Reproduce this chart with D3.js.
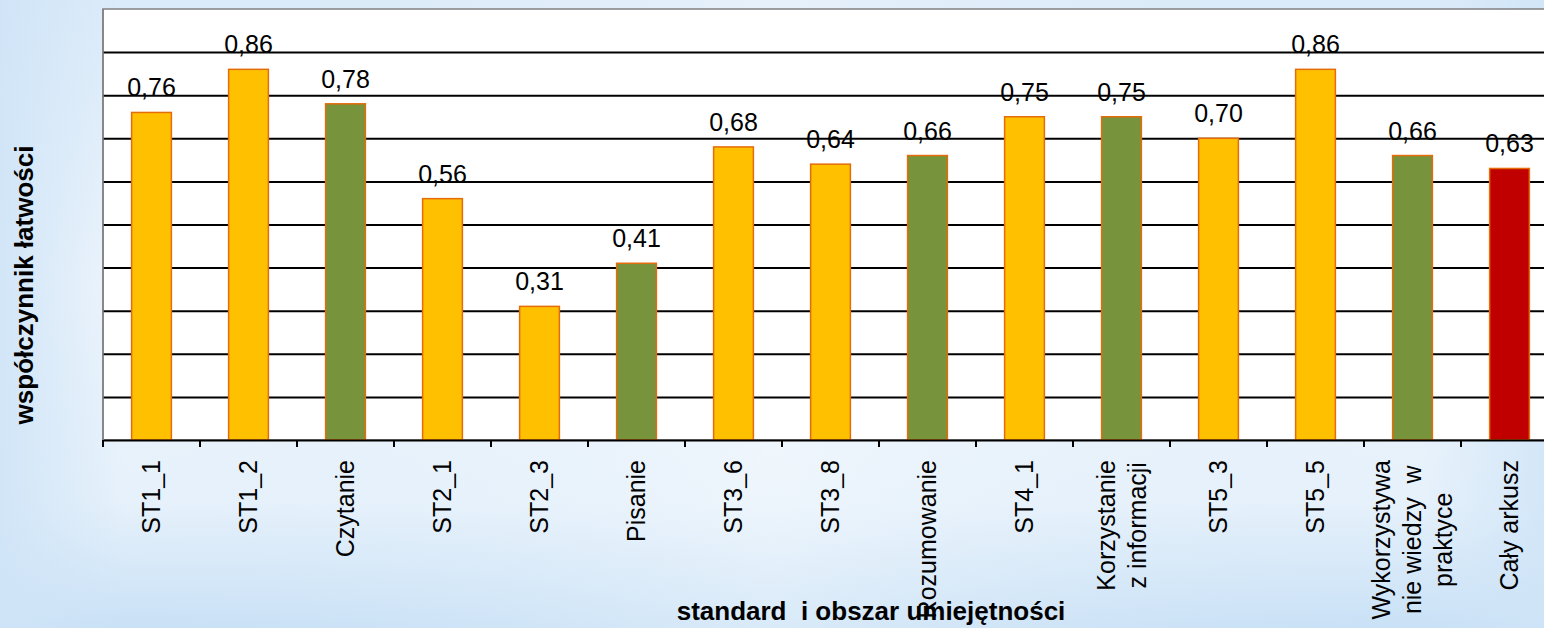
<!DOCTYPE html>
<html>
<head>
<meta charset="utf-8">
<script src="https://cdn.jsdelivr.net/npm/d3@7"></script>
<style>
    html, body { margin: 0; padding: 0; overflow: hidden; }
    svg { display: block; font-family: "Liberation Sans", Arial, sans-serif; }
</style>
</head>
<body>
<div id="root"></div>
<script>
const categories = ["ST1_1", "ST1_2", "Czytanie", "ST2_1", "ST2_3", "Pisanie", "ST3_6", "ST3_8",
    "Rozumowanie", "ST4_1", "Korzystanie\nz informacji", "ST5_3", "ST5_5",
    "Wykorzystywa\nnie wiedzy  w\npraktyce", "Cały arkusz"];
const values = [0.76, 0.86, 0.78, 0.56, 0.31, 0.41, 0.68, 0.64, 0.66, 0.75, 0.75, 0.70, 0.86, 0.66, 0.63];
const groups = ["standard", "standard", "obszar", "standard", "standard", "obszar", "standard", "standard",
    "obszar", "standard", "obszar", "standard", "standard", "obszar", "calosc"];
const gridTicks = [0.1, 0.2, 0.3, 0.4, 0.5, 0.6, 0.7, 0.8, 0.9];

document.addEventListener("DOMContentLoaded", () => {
    const width = 1544;
    const height = 628;
    const plot = { left: 103, top: 9, bottom: 440, right: 1558 };

    const svg = d3.select("#root").append("svg")
        .attr("width", width)
        .attr("height", height);

    // soft blue background
    const defs = svg.append("defs");
    const bg = defs.append("linearGradient").attr("id", "bg")
        .attr("x1", 0).attr("y1", 0).attr("x2", 0).attr("y2", 1);
    bg.append("stop").attr("offset", "0%").attr("stop-color", "#dcebf9");
    bg.append("stop").attr("offset", "45%").attr("stop-color", "#eef5fc");
    bg.append("stop").attr("offset", "80%").attr("stop-color", "#e6f1fb");
    bg.append("stop").attr("offset", "100%").attr("stop-color", "#c9e1f6");
    const side = defs.append("linearGradient").attr("id", "side")
        .attr("x1", 0).attr("y1", 0).attr("x2", 1).attr("y2", 0);
    side.append("stop").attr("offset", "0%").attr("stop-color", "#cfe4f7").attr("stop-opacity", 0.9);
    side.append("stop").attr("offset", "8%").attr("stop-color", "#cfe4f7").attr("stop-opacity", 0);
    side.append("stop").attr("offset", "50%").attr("stop-color", "#ffffff").attr("stop-opacity", 0.3);
    side.append("stop").attr("offset", "92%").attr("stop-color", "#cfe4f7").attr("stop-opacity", 0);
    side.append("stop").attr("offset", "100%").attr("stop-color", "#cfe4f7").attr("stop-opacity", 0.8);

    svg.append("rect").attr("width", width).attr("height", height).attr("fill", "url(#bg)");
    svg.append("rect").attr("width", width).attr("height", height).attr("fill", "url(#side)");

    const x = d3.scaleBand()
        .domain(categories)
        .range([plot.left, plot.right])
        .padding(0);

    const y = d3.scaleLinear()
        .domain([0, 1])
        .range([plot.bottom, plot.top]);

    const pl = d3.formatLocale({ decimal: ",", thousands: " ", grouping: [3], currency: ["", " zł"] });
    const fmt = pl.format(".2f");

    const fills = { standard: "#ffc000", obszar: "#77933c", calosc: "#c00000" };

    // plot area
    svg.append("rect")
        .attr("x", plot.left)
        .attr("y", y(1))
        .attr("width", plot.right - plot.left)
        .attr("height", y(0) - y(1))
        .attr("fill", "#ffffff")
        .attr("stroke", "#808080")
        .attr("stroke-width", 1.5);

    // gridlines
    svg.append("g")
        .attr("transform", `translate(${plot.left},0)`)
        .call(d3.axisLeft(y).tickValues(gridTicks).tickSize(-(plot.right - plot.left)).tickFormat(""))
        .call(g => g.select(".domain").remove())
        .call(g => g.selectAll(".tick line").attr("stroke", "#000").attr("stroke-width", 2));

    // bars
    const bw = x.bandwidth() * 0.41;
    svg.selectAll(".bar")
        .data(categories)
        .enter().append("rect")
        .attr("class", "bar")
        .attr("x", d => x(d) + (x.bandwidth() - bw) / 2)
        .attr("y", (d, i) => y(values[i]))
        .attr("width", bw)
        .attr("height", (d, i) => y(0) - y(values[i]))
        .attr("fill", (d, i) => fills[groups[i]])
        .attr("stroke", "#e46c0a")
        .attr("stroke-width", 1.5);

    // value labels
    svg.selectAll(".val")
        .data(categories)
        .enter().append("text")
        .attr("class", "val")
        .attr("x", d => x(d) + x.bandwidth() / 2)
        .attr("y", (d, i) => y(values[i]) - 16)
        .attr("text-anchor", "middle")
        .style("font-size", "25px")
        .style("fill", "#000")
        .text((d, i) => fmt(values[i]));

    // x axis line and ticks on band edges
    svg.append("g")
        .attr("transform", `translate(0,${plot.bottom})`)
        .call(d3.axisBottom(x).tickSize(0).tickSizeOuter(0).tickFormat(""))
        .call(g => g.select(".domain").attr("stroke", "#000").attr("stroke-width", 2));

    const edges = categories.map(d => x(d)).concat([x(categories[categories.length - 1]) + x.bandwidth()]);
    svg.selectAll(".edge")
        .data(edges)
        .enter().append("line")
        .attr("class", "edge")
        .attr("x1", d => d).attr("x2", d => d)
        .attr("y1", plot.bottom).attr("y2", plot.bottom + 7)
        .attr("stroke", "#000")
        .attr("stroke-width", 2);

    // left border (gray) over gridline ends
    svg.append("line")
        .attr("x1", plot.left).attr("x2", plot.left)
        .attr("y1", y(1)).attr("y2", y(0))
        .attr("stroke", "#808080").attr("stroke-width", 1.5);

    // category labels, rotated, lines centred on each other
    const lineH = 31;
    const labelTop = 460;
    const lab = svg.selectAll(".cat")
        .data(categories)
        .enter().append("g")
        .attr("class", "cat")
        .attr("transform", d => `translate(${x(d) + x.bandwidth() / 2},${labelTop})`);

    lab.each(function (d) {
        const lines = d.split("\n");
        const t = d3.select(this).append("text")
            .attr("transform", "rotate(-90)")
            .attr("text-anchor", "middle")
            .style("font-size", "25px")
            .style("white-space", "pre")
            .style("fill", "#000");
        const spans = lines.map((s, i) => t.append("tspan")
            .attr("y", (i - (lines.length - 1) / 2) * lineH)
            .attr("dy", "0.35em")
            .text(s));
        const maxLen = d3.max(spans, s => s.node().getComputedTextLength());
        spans.forEach(s => s.attr("x", -maxLen / 2));
    });

    // axis titles
    svg.append("text")
        .attr("x", 871)
        .attr("y", 620)
        .attr("text-anchor", "middle")
        .style("font-size", "26px")
        .style("font-weight", "bold")
        .style("white-space", "pre")
        .style("fill", "#000")
        .text("standard  i obszar umiejętności");

    svg.append("text")
        .attr("transform", "translate(33,285) rotate(-90)")
        .attr("text-anchor", "middle")
        .style("font-size", "26px")
        .style("font-weight", "bold")
        .style("fill", "#000")
        .text("współczynnik łatwości");
});
</script>
</body>
</html>
